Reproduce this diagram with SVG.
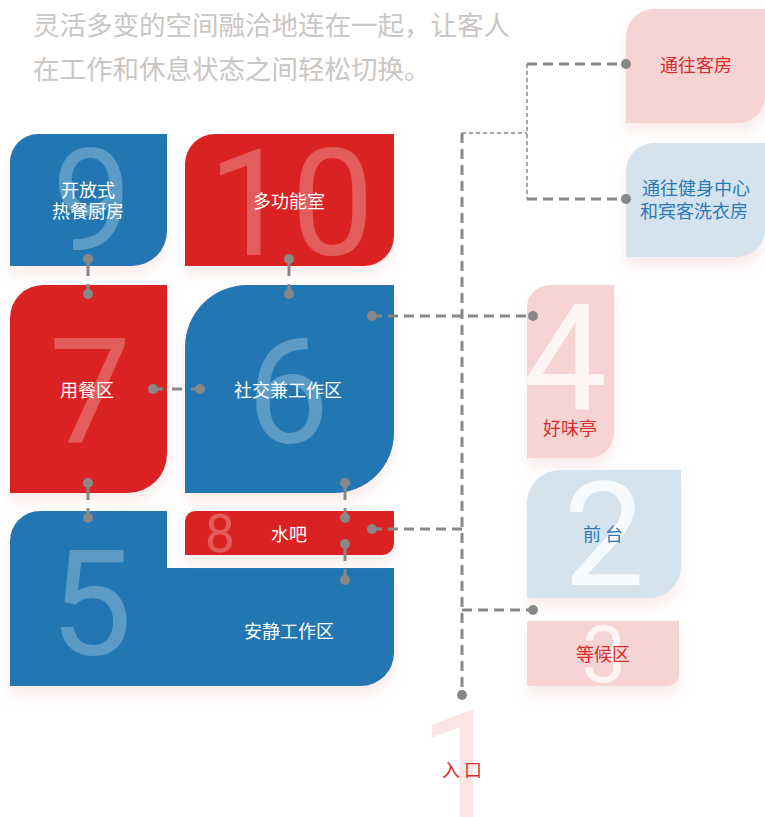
<svg xmlns="http://www.w3.org/2000/svg" width="765" height="817" viewBox="0 0 765 817">
<defs>
<style>
.blue{fill:#2177b3}
.red{fill:#da2424}
.pink{fill:#f6d4d4}
.lblue{fill:#d4e3ee}
.shape{filter:url(#sh)}
.num{font-family:Roboto,"Liberation Sans",Arial,sans-serif;font-weight:400;text-anchor:middle}
.ndark{fill:#ffffff;fill-opacity:0.27}
.nlight{fill:#ffffff;fill-opacity:0.75}
.lbl{font-family:"Noto Sans CJK SC","Noto Sans",sans-serif;font-size:18px;text-anchor:middle}
.w{fill:#ffffff}
.tr{fill:#dc2a2a}
.tb{fill:#2a78b5}
.title{font-family:"Noto Sans CJK SC","Noto Sans",sans-serif;font-size:26.5px;fill:#cac6c3}
.thick{fill:none;stroke:#888888;stroke-width:3;stroke-dasharray:10 6}
.thin{fill:none;stroke:#888888;stroke-width:1.5;stroke-dasharray:4 3}
.short{fill:none;stroke:#888888;stroke-width:3;stroke-dasharray:17 8}
.shorth{fill:none;stroke:#888888;stroke-width:3;stroke-dasharray:10 9}
.dot{fill:#888888}
</style>
<filter id="sh" x="-20%" y="-20%" width="140%" height="150%">
<feDropShadow dx="0" dy="9" stdDeviation="6" flood-color="#eab0b0" flood-opacity="0.25"/>
</filter>
</defs>
<rect width="765" height="817" fill="#ffffff"/>

<text class="title" x="33" y="35">灵活多变的空间融洽地连在一起，让客人</text>
<text class="title" x="33" y="79">在工作和休息状态之间轻松切换。</text>

<g id="node-9">
<path class="blue shape" d="M38,134 H167 V231 A35,35 0 0 1 132,266 H10 V162 A28,28 0 0 1 38,134 Z"/>
<text class="num ndark" x="92" y="250" font-size="142">9</text>
<text class="lbl w" x="88" y="197">开放式</text>
<text class="lbl w" x="88" y="218">热餐厨房</text>
</g>

<g id="node-10">
<path class="red shape" d="M215,134 H394 V236 A30,30 0 0 1 364,266 H185 V164 A30,30 0 0 1 215,134 Z"/>
<text class="num ndark" x="291" y="255" font-size="148">10</text>
<text class="lbl w" x="289" y="208">多功能室</text>
</g>

<g id="node-7">
<path class="red shape" d="M43,285 H167 V454 A39,39 0 0 1 128,493 H10 V318 A33,33 0 0 1 43,285 Z"/>
<text class="num ndark" x="90" y="442" font-size="146">7</text>
<text class="lbl w" x="87" y="397">用餐区</text>
</g>

<g id="node-6">
<path class="blue shape" d="M247,285 H394 V433 A60,60 0 0 1 334,493 H185 V347 A62,62 0 0 1 247,285 Z"/>
<text class="num ndark" x="288" y="443" font-size="147">6</text>
<text class="lbl w" x="288" y="397">社交兼工作区</text>
</g>

<g id="node-5">
<path class="blue shape" d="M40,511 H167 V568 H394 V653 A33,33 0 0 1 361,686 H10 V541 A30,30 0 0 1 40,511 Z"/>
<text class="num ndark" x="91" y="655" font-size="147">5</text>
<text class="lbl w" x="289" y="638">安静工作区</text>
</g>

<g id="node-8">
<path class="red shape" d="M195,511 H394 V543 A12,12 0 0 1 382,555 H185 V521 A10,10 0 0 1 195,511 Z"/>
<text class="num ndark" x="220" y="552" font-size="53">8</text>
<text class="lbl w" x="289" y="541">水吧</text>
</g>

<g id="node-rooms">
<path class="pink shape" d="M654,9 H765 V96 A27,27 0 0 1 738,123 H626 V37 A28,28 0 0 1 654,9 Z"/>
<text class="lbl tr" x="696" y="72">通往客房</text>
</g>

<g id="node-gym">
<path class="lblue shape" d="M654,143 H765 V229 A28,28 0 0 1 737,257 H626 V171 A28,28 0 0 1 654,143 Z"/>
<text class="lbl tb" x="696" y="195">通往健身中心</text>
<text class="lbl tb" x="694" y="218">和宾客洗衣房</text>
</g>

<g id="node-4">
<path class="pink shape" d="M550,285 H614 V433 A25,25 0 0 1 589,458 H527 V308 A23,23 0 0 1 550,285 Z"/>
<text class="num nlight" x="565" y="410" font-size="149">4</text>
<text class="lbl tr" x="570" y="435">好味亭</text>
</g>

<g id="node-2">
<path class="lblue shape" d="M560,470 H681 V566 A32,32 0 0 1 649,598 H527 V503 A33,33 0 0 1 560,470 Z"/>
<text class="num" x="604" y="585" font-size="145" fill="#ffffff" fill-opacity="0.8">2</text>
<text class="lbl tb" x="603" y="541">前 台</text>
</g>

<g id="node-3">
<path class="pink shape" d="M530,621 H679 V674 A12,12 0 0 1 667,686 H527 V624 A3,3 0 0 1 530,621 Z"/>
<text class="num nlight" x="604" y="682" font-size="79">3</text>
<text class="lbl tr" x="603" y="661">等候区</text>
</g>

<g id="node-1">
<text class="num" x="462" y="819" font-size="152" fill="#fbe4e4">1</text>
<text class="lbl tr" x="462" y="777">入 口</text>
</g>

<g id="connectors">
<path class="thin" d="M462,133 H527"/>
<path class="thin" d="M527,64 V199"/>
<path class="thick" d="M527,64 H626"/>
<path class="thick" d="M527,199 H626"/>
<path class="thick" d="M462,133 V695"/>
<path class="thick" d="M372,316 H533"/>
<path class="thick" d="M372,529 H462"/>
<path class="thick" d="M462,610 H533"/>
<path class="short" d="M88,259 V294"/>
<path class="short" d="M289,259 V294"/>
<path class="shorth" d="M153,389 H200"/>
<path class="short" d="M88,483 V518"/>
<path class="short" d="M345,483 V518"/>
<path class="short" d="M345,544 V580"/>
<circle class="dot" cx="626" cy="64" r="5"/>
<circle class="dot" cx="626" cy="199" r="5"/>
<circle class="dot" cx="462" cy="695" r="5"/>
<circle class="dot" cx="372" cy="316" r="5"/>
<circle class="dot" cx="533" cy="316" r="5"/>
<circle class="dot" cx="372" cy="529" r="5"/>
<circle class="dot" cx="533" cy="610" r="5"/>
<circle class="dot" cx="88" cy="259" r="5"/>
<circle class="dot" cx="88" cy="294" r="5"/>
<circle class="dot" cx="289" cy="259" r="5"/>
<circle class="dot" cx="289" cy="294" r="5"/>
<circle class="dot" cx="153" cy="389" r="5"/>
<circle class="dot" cx="200" cy="389" r="5"/>
<circle class="dot" cx="88" cy="483" r="5"/>
<circle class="dot" cx="88" cy="518" r="5"/>
<circle class="dot" cx="345" cy="483" r="5"/>
<circle class="dot" cx="345" cy="518" r="5"/>
<circle class="dot" cx="345" cy="544" r="5"/>
<circle class="dot" cx="345" cy="580" r="5"/>
</g>
</svg>
